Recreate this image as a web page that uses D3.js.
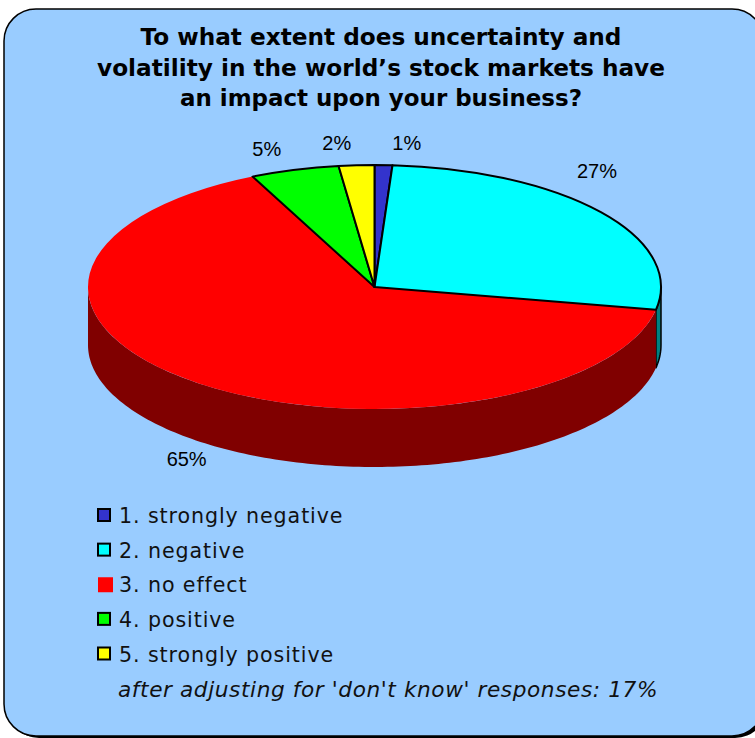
<!DOCTYPE html>
<html>
<head>
<meta charset="utf-8">
<script src="https://cdn.jsdelivr.net/npm/d3@7"></script>
<style>
  html, body { margin: 0; padding: 0; background: #ffffff; }
  svg { display: block; }
</style>
</head>
<body>
<svg id="chart" width="755" height="738"></svg>
<script>
// ---- data ----
const titleLines = [
  "To what extent does uncertainty and",
  "volatility in the world\u2019s stock markets have",
  "an impact upon your business?"
];
const categories = ["1. strongly negative", "2. negative", "3. no effect", "4. positive", "5. strongly positive"];
const values = [1, 27, 65, 5, 2];
const valueLabels = ["1%", "27%", "65%", "5%", "2%"];
const topColors = ["#3333CC", "#00FFFF", "#FF0000", "#00FF00", "#FFFF00"];
const sideColors = ["#1A1A66", "#008080", "#800000", "#008000", "#808000"];
const outlined = [true, true, false, true, true];
const footnote = "after adjusting for 'don't know' responses:  17%";

// ---- layout ----
const cx = 374.5, cy = 287, rx = 286.5, ry = 122, depth = 58;

const svg = d3.select("#chart");

// scale a text element's font size so its rendered width equals `target`; returns size
function fitWidth(sel, target) {
  const fs = parseFloat(sel.attr("font-size"));
  const w = sel.node().getComputedTextLength();
  const next = fs * target / w;
  sel.attr("font-size", next.toFixed(2));
  return next;
}

// frame with shadow
svg.append("rect").attr("x", 7).attr("y", 12).attr("width", 760).attr("height", 726)
  .attr("rx", 32).attr("fill", "#000");
svg.append("rect").attr("x", 4).attr("y", 9).attr("width", 760).attr("height", 727)
  .attr("rx", 32).attr("fill", "#99CCFF").attr("stroke", "#000").attr("stroke-width", 1.5);

// title
const title = svg.append("g");
const titleBaselines = [45, 76, 106];
const titleWidths = [481, 568, 402];
titleLines.forEach((t, i) => {
  const s = title.append("text")
    .attr("x", 381).attr("y", titleBaselines[i])
    .attr("text-anchor", "middle")
    .attr("font-family", "'DejaVu Sans', Verdana, sans-serif")
    .attr("font-weight", "bold")
    .attr("font-size", 20)
    .attr("fill", "#000")
    .text(t);
  fitWidth(s, titleWidths[i]);
});

// pie geometry
const arcs = d3.pie().sort(null).value(d => d).startAngle(0).endAngle(2 * Math.PI)(values);
const px = a => cx + rx * Math.sin(a);
const py = a => cy - ry * Math.cos(a);

// outer walls (front half only: angles between PI/2 and 3PI/2)
const sideG = svg.append("g");
arcs.forEach((d, i) => {
  const a0 = Math.max(d.startAngle, Math.PI / 2);
  const a1 = Math.min(d.endAngle, 3 * Math.PI / 2);
  if (a1 <= a0) return;
  const n = Math.max(2, Math.ceil((a1 - a0) / 0.02));
  const angles = d3.range(n + 1).map(k => a0 + (a1 - a0) * k / n);
  const pts = angles.map(a => [px(a), py(a)])
    .concat(angles.slice().reverse().map(a => [px(a), py(a) + depth]));
  sideG.append("path")
    .attr("d", d3.line()(pts) + "Z")
    .attr("fill", sideColors[i])
    .attr("stroke", outlined[i] ? "#000" : "none")
    .attr("stroke-width", 1.5)
    .attr("stroke-linejoin", "round");
});

// top faces (flattened circle)
const arcGen = d3.arc().innerRadius(0).outerRadius(rx);
const topG = svg.append("g").attr("transform", `translate(${cx},${cy}) scale(1,${ry / rx})`);
const order = d3.range(values.length).sort((a, b) => (outlined[a] ? 1 : 0) - (outlined[b] ? 1 : 0));
order.forEach(i => {
  topG.append("path")
    .attr("d", arcGen(arcs[i]))
    .attr("fill", topColors[i])
    .attr("stroke", outlined[i] ? "#000" : "none")
    .attr("stroke-width", 2)
    .attr("stroke-linejoin", "round")
    .attr("vector-effect", "non-scaling-stroke");
});

// value labels: outside the rim at each slice's mid-angle; labels in the
// back-right quarter sit higher and closer in, crowded top labels are spread apart
const lab = arcs.map((d, i) => {
  const a = (d.startAngle + d.endAngle) / 2;
  const s = Math.sin(a), c = Math.cos(a);
  const front = c < 0;
  const side = Math.abs(s) > 0.5 && c > 0;
  return {
    i, a,
    x: cx + (side ? rx - 5 : rx + 20) * s,
    y: cy - (side ? ry + 68 : ry + 22) * c + (front ? depth : 0)
  };
});
const topLabels = lab.filter(l => Math.cos(l.a) > 0.9).sort((p, q) => p.x - q.x);
const minGap = 70;
if (topLabels.length > 1) {
  const mean = d3.mean(topLabels, l => l.x) - 6;
  const span = minGap * (topLabels.length - 1);
  topLabels.forEach((l, k) => { l.x = mean - span / 2 + k * minGap; });
}
svg.append("g").selectAll("text").data(lab).join("text")
  .attr("x", d => d.x)
  .attr("y", d => d.y)
  .attr("dy", "0.35em")
  .attr("text-anchor", "middle")
  .attr("font-family", "'Liberation Sans', Arial, sans-serif")
  .attr("font-size", 20)
  .attr("fill", "#000")
  .text(d => valueLabels[d.i]);

// legend
const legend = svg.append("g");
const legY = d3.scalePoint().domain(categories).range([515.5, 654]);
let legendSize = null;
categories.forEach((c, i) => {
  const y = legY(c);
  if (outlined[i]) {
    legend.append("rect").attr("x", 98).attr("y", y - 6.5).attr("width", 12).attr("height", 12)
      .attr("fill", topColors[i]).attr("stroke", "#000").attr("stroke-width", 2);
  } else {
    legend.append("rect").attr("x", 98).attr("y", y - 7.5).attr("width", 15).attr("height", 15)
      .attr("fill", topColors[i]);
  }
  const t = legend.append("text")
    .attr("x", 119).attr("y", y + 7.5)
    .attr("font-family", "'DejaVu Sans', Verdana, sans-serif")
    .attr("font-size", legendSize === null ? 19 : legendSize)
    .attr("letter-spacing", 0.9)
    .attr("fill", "#111")
    .text(c);
  if (legendSize === null) legendSize = fitWidth(t, 226);
});

// footnote
const fn = svg.append("text")
  .attr("x", 118).attr("y", 697)
  .attr("font-family", "'DejaVu Sans', Verdana, sans-serif")
  .attr("font-style", "italic")
  .attr("font-size", 19)
  .attr("letter-spacing", 0.6)
  .attr("fill", "#111")
  .text(footnote);
fitWidth(fn, 544);
</script>
</body>
</html>
